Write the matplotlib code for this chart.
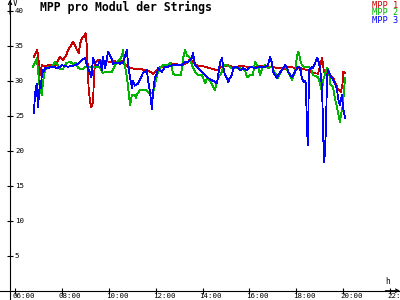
import matplotlib
matplotlib.use('Agg')
import matplotlib.pyplot as plt
import matplotlib.transforms as mtransforms

# Stunden (dezimal) und Spannung in V je MPP-Tracker
t_mpp1 = [6.81, 6.90, 6.95, 7.02, 7.07, 7.14, 7.28, 7.49, 7.71, 7.83, 7.92, 8.05, 8.18, 8.26, 8.39,
          8.47, 8.56, 8.64, 8.73, 8.77, 8.86, 8.94, 9.01, 9.05, 9.09, 9.14, 9.20, 9.26, 9.33, 9.37,
          9.41, 9.54, 9.71, 9.88, 10.05, 10.22, 10.39, 10.56, 10.69, 10.91, 11.12, 11.33, 11.55,
          11.76, 11.89, 12.02, 12.10, 12.27, 12.53, 12.83, 13.12, 13.38, 13.47, 13.59, 13.76, 14.11,
          14.40, 14.62, 14.83, 15.09, 15.39, 15.60, 15.94, 16.24, 16.54, 16.88, 17.22, 17.52, 17.73,
          17.95, 18.16, 18.37, 18.54, 18.71, 18.93, 19.05, 19.10, 19.18, 19.27, 19.44, 19.57, 19.69,
          19.78, 19.91, 19.97, 20.01, 20.08]
v_mpp1 = [33.4, 34.0, 34.4, 32.5, 30.8, 32.2, 32.0, 32.3, 32.0, 32.8, 33.4, 33.0, 33.6, 34.4, 35.0,
          35.6, 35.0, 34.4, 34.0, 35.2, 36.1, 36.3, 36.8, 35.5, 33.0, 29.0, 27.0, 26.2, 27.0, 30.5,
          32.5, 33.0, 32.7, 32.9, 32.6, 32.8, 32.7, 32.8, 32.3, 31.8, 31.7, 31.7, 31.5,
          31.3, 31.0, 31.3, 31.8, 32.0, 32.2, 32.4, 32.2, 32.6, 33.2, 32.6, 32.2, 32.0,
          31.7, 31.5, 32.0, 32.2, 31.9, 32.1, 32.0, 31.9, 32.1, 32.0, 31.8, 31.7, 32.0,
          31.8, 31.8, 31.6, 31.5, 31.1, 31.0, 32.5, 33.2, 31.3, 31.0, 30.8, 30.4, 29.5,
          28.7, 28.4, 29.5, 31.3, 31.1]

t_mpp2 = [6.77, 6.85, 6.93, 6.98, 7.07, 7.15, 7.19, 7.28, 7.41, 7.58, 7.71, 7.83, 7.92, 8.05, 8.18,
          8.35, 8.47, 8.60, 8.69, 8.86, 9.03, 9.20, 9.41, 9.63, 9.75, 9.88, 10.14, 10.27, 10.35, 10.48,
          10.56, 10.61, 10.67, 10.78, 10.86, 10.91, 10.99, 11.12, 11.16, 11.20, 11.33, 11.55, 11.76,
          11.89, 12.06, 12.19, 12.31, 12.53, 12.66, 12.74, 12.87, 13.08, 13.17, 13.25, 13.34, 13.47,
          13.55, 13.68, 13.81, 13.98, 14.11, 14.19, 14.32, 14.45, 14.53, 14.66, 14.79, 14.92, 15.04,
          15.26, 15.47, 15.60, 15.81, 15.90, 16.03, 16.15, 16.24, 16.37, 16.45, 16.58, 16.67, 16.79,
          16.96, 17.09, 17.22, 17.39, 17.52, 17.65, 17.82, 17.95, 18.03, 18.07, 18.12, 18.16, 18.24,
          18.37, 18.46, 18.63, 18.71, 18.93, 19.01, 19.10, 19.14, 19.31, 19.40, 19.44, 19.57, 19.65,
          19.78, 19.86, 19.95, 19.99, 20.08]
v_mpp2 = [32.0, 32.6, 33.2, 31.5, 28.5, 28.0, 29.8, 31.5, 32.0, 32.0, 32.7, 32.2, 31.7, 31.7, 32.5,
          32.7, 32.4, 32.5, 31.8, 31.6, 32.0, 32.0, 32.0, 31.9, 31.1, 31.3, 31.3, 32.2, 32.7, 33.0,
          33.5, 34.4, 32.5, 30.4, 28.0, 26.5, 28.0, 28.0, 27.5, 28.0, 28.7, 28.7, 28.2,
          28.2, 30.8, 31.8, 32.2, 32.2, 32.6, 31.0, 30.8, 30.8, 33.2, 34.4, 33.6, 33.2,
          32.2, 31.3, 30.8, 30.8, 29.6, 30.4, 30.0, 29.1, 28.7, 30.4, 31.0, 32.2, 32.2,
          31.8, 31.8, 31.8, 31.5, 30.5, 30.8, 30.8, 32.7, 32.0, 30.8, 32.0, 32.2, 31.8,
          32.0, 31.1, 30.4, 31.6, 32.2, 31.3, 30.1, 31.3, 33.5, 34.1, 34.0, 33.0, 32.2,
          31.9, 32.0, 31.8, 30.8, 30.5, 29.6, 28.4, 30.0, 31.8, 31.3, 29.6, 29.0, 27.5,
          25.5, 24.1, 26.0, 26.5, 30.4]

t_mpp3 = [6.81, 6.85, 6.93, 6.98, 7.07, 7.11, 7.15, 7.19, 7.28, 7.41, 7.58, 7.83, 8.01, 8.26, 8.56,
          8.69, 8.86, 8.99, 9.07, 9.20, 9.26, 9.33, 9.46, 9.54, 9.63, 9.71, 9.75, 9.84, 9.97, 10.14,
          10.18, 10.35, 10.48, 10.61, 10.78, 10.82, 10.91, 10.99, 11.03, 11.12, 11.25, 11.33, 11.46,
          11.63, 11.67, 11.76, 11.84, 11.89, 11.97, 12.06, 12.10, 12.27, 12.40, 12.53, 12.70, 12.83,
          13.12, 13.25, 13.38, 13.55, 13.59, 13.68, 13.81, 13.98, 14.11, 14.23, 14.40, 14.53, 14.62,
          14.75, 14.83, 14.87, 14.96, 15.04, 15.09, 15.17, 15.26, 15.30, 15.47, 15.60, 15.73, 15.90,
          16.03, 16.24, 16.45, 16.67, 16.79, 16.88, 16.96, 17.01, 17.09, 17.18, 17.22, 17.39, 17.52,
          17.60, 17.65, 17.82, 17.95, 18.07, 18.16, 18.24, 18.33, 18.37, 18.41, 18.46, 18.50, 18.54,
          18.67, 18.71, 18.80, 18.88, 18.93, 19.01, 19.10, 19.14, 19.18, 19.22, 19.27, 19.31, 19.35,
          19.44, 19.52, 19.57, 19.65, 19.74, 19.78, 19.86, 19.95, 19.99, 20.08]
v_mpp3 = [25.4, 28.0, 29.6, 26.2, 30.0, 29.0, 31.5, 31.2, 31.8, 31.8, 32.0, 31.8, 32.2, 32.0, 32.2,
          32.4, 33.0, 33.2, 32.2, 31.1, 30.5, 33.2, 32.2, 32.2, 33.0, 31.5, 33.4, 31.8, 34.1, 33.0,
          32.4, 32.6, 32.4, 32.6, 34.4, 32.2, 30.4, 29.0, 30.0, 29.3, 29.6, 30.1, 31.1,
          31.5, 30.1, 28.4, 26.0, 28.4, 30.5, 31.1, 31.8, 31.3, 32.0, 32.0, 32.2, 32.2,
          32.2, 32.7, 32.7, 33.2, 34.0, 32.2, 31.8, 31.3, 30.8, 30.4, 30.1, 29.8, 29.6,
          32.7, 33.2, 32.2, 30.8, 30.4, 29.8, 30.4, 30.8, 31.8, 32.0, 31.5, 31.8, 31.5,
          32.0, 31.8, 32.0, 32.0, 32.2, 33.4, 32.6, 31.3, 30.8, 30.4, 30.8, 31.5, 32.2,
          32.0, 31.3, 30.5, 31.3, 32.0, 31.8, 30.4, 29.8, 30.0, 29.6, 22.7, 20.8, 31.5,
          32.0, 31.8, 32.5, 33.2, 33.0, 31.9, 29.0, 23.7, 18.4, 19.5, 23.7, 30.4, 31.5,
          30.8, 30.4, 30.2, 29.6, 28.7, 27.5, 26.5, 28.0, 26.2, 24.7]

series_names = ['MPP 1', 'MPP 2', 'MPP 3']
series_colors = ['#c80000', '#00b400', '#0000ff']

x_ticks = [6, 8, 10, 12, 14, 16, 18, 20, 22]
x_labels = ['06:00', '08:00', '10:00', '12:00', '14:00', '16:00', '18:00', '20:00', '22:00']
y_ticks = [5, 10, 15, 20, 25, 30, 35, 40]

MONO = 'DejaVu Sans Mono'
x_axis_pos = 5.787

fig = plt.figure(figsize=(4, 3), dpi=100)
ax = fig.add_axes([0, 0, 1, 1])
ax.set_xlim(5.36, 22.425)
ax.set_ylim(-1.33, 41.53)

for t, v, c in zip([t_mpp1, t_mpp2, t_mpp3], [v_mpp1, v_mpp2, v_mpp3], series_colors):
    ax.plot(t, v, color=c, lw=0.6, antialiased=False)

# Achsen als Kreuz
ax.spines['top'].set_visible(False)
ax.spines['right'].set_visible(False)
ax.spines['left'].set_position(('data', x_axis_pos))
ax.spines['bottom'].set_position(('data', 0))
for s in ('left', 'bottom'):
    ax.spines[s].set_linewidth(0.8)
    ax.spines[s].set_color('black')

ax.set_xticks(x_ticks)
ax.set_xticklabels(x_labels, ha='left')
ax.set_yticks(y_ticks)
ax.set_yticklabels([str(y) for y in y_ticks], ha='left')
ax.tick_params(axis='both', direction='inout', length=4.5, width=0.8, labelsize=5.4)
ax.tick_params(axis='x', pad=-0.6)
ax.tick_params(axis='y', pad=-5.8)
for lbl in ax.get_xticklabels() + ax.get_yticklabels():
    lbl.set_family(MONO)
off = mtransforms.ScaledTranslation(-3 / 100, 0, fig.dpi_scale_trans)
for lbl in ax.get_xticklabels():
    lbl.set_transform(lbl.get_transform() + off)

# Pfeile an den Achsenenden
ax.annotate('', xy=(x_axis_pos, 41.53), xytext=(x_axis_pos, 39.5),
            arrowprops=dict(arrowstyle='->', lw=0.8, color='black', shrinkA=0, shrinkB=0,
                            mutation_scale=6))
ax.annotate('', xy=(22.425, 0), xytext=(21.8, 0),
            arrowprops=dict(arrowstyle='->', lw=0.8, color='black', shrinkA=0, shrinkB=0,
                            mutation_scale=6))

fig.text(13 / 400, 1 - 3 / 300, 'V', family=MONO, fontsize=5.6, ha='left', va='center')
fig.text(385 / 400, 1 - 281 / 300, 'h', family=MONO, fontsize=5.6, ha='left', va='center')

fig.text(40 / 400, 1 - 7 / 300, 'MPP pro Modul der Strings', family=MONO, fontsize=8.3,
         fontweight='bold', ha='left', va='center')

for i, (name, c) in enumerate(zip(series_names, series_colors)):
    fig.text(398 / 400, 1 - (5 + 7.8 * i) / 300, name, color=c, family=MONO, fontsize=6.2,
             ha='right', va='center')

fig.savefig('out.png', dpi=100)
